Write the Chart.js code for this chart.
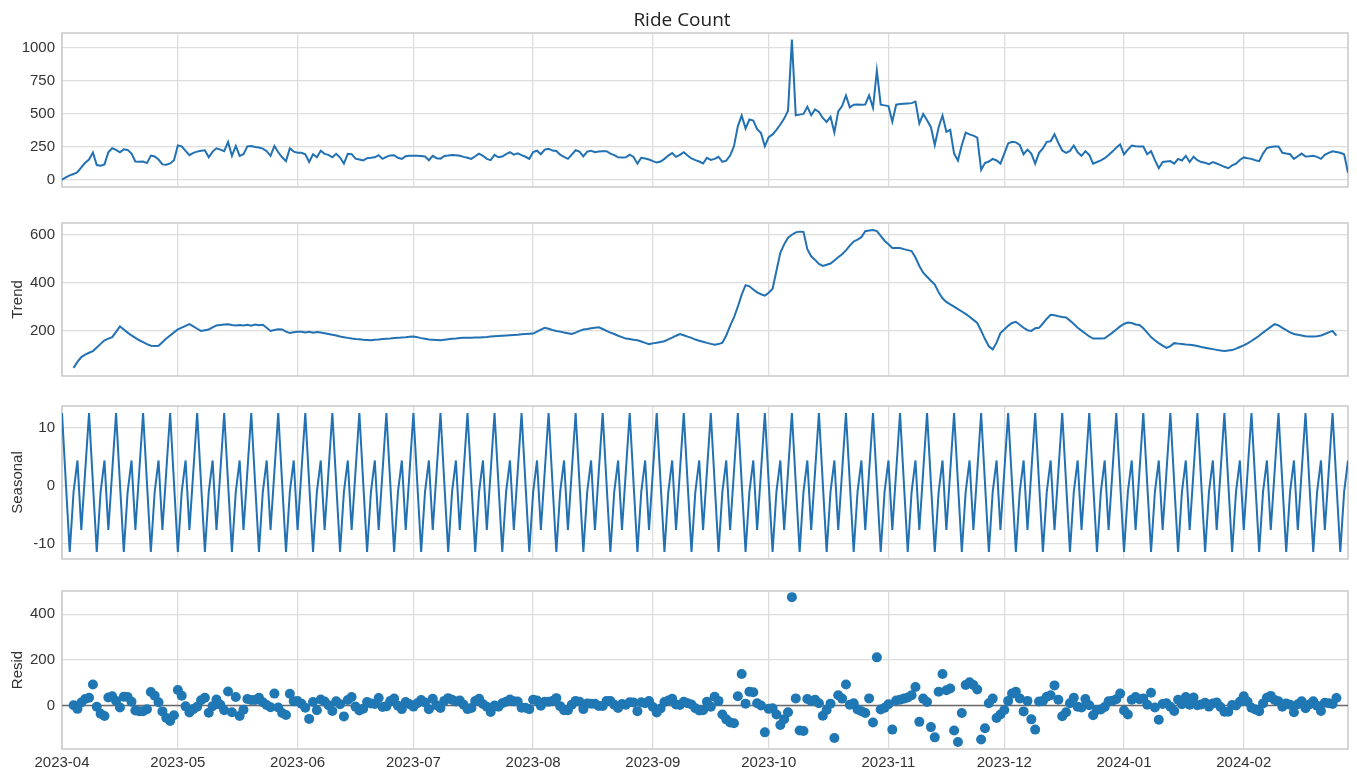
<!DOCTYPE html>
<html>
<head>
<meta charset="utf-8">
<script src="https://cdn.jsdelivr.net/npm/chart.js@4.4.0/dist/chart.umd.min.js"></script>
<style>
body{margin:0;background:#fff;width:1357px;height:774px;position:relative;overflow:hidden}
canvas{position:absolute;left:0}
</style>
</head>
<body>
<canvas id="obs" width="1357" height="203" style="top:0px"></canvas>
<canvas id="trend" width="1357" height="185" style="top:207px"></canvas>
<canvas id="seas" width="1357" height="185" style="top:390px"></canvas>
<canvas id="resid" width="1357" height="199" style="top:575px"></canvas>
<script>
// day index 0 = 2023-04-01, last day 333 = 2024-02-28
const monthDays = [0, 30, 61, 91, 122, 153, 183, 214, 244, 275, 306];
const monthLabels = ['2023-04','2023-05','2023-06','2023-07','2023-08','2023-09','2023-10','2023-11','2023-12','2024-01','2024-02'];

const obsTicks = [0, 250, 500, 750, 1000];
const trendTicks = [200, 400, 600];
const seasTicks = [-10, 0, 10];
const residTicks = [0, 200, 400];

const observed = [
  2, 19, 35, 45, 59, 95, 130, 155, 208, 113,
  108, 118, 210, 240, 228, 210, 232, 228, 200, 140,
  138, 140, 128, 185, 178, 155, 118, 115, 125, 150,
  262, 255, 220, 188, 205, 215, 222, 225, 172, 215,
  240, 230, 218, 288, 183, 258, 182, 195, 255, 258,
  250, 246, 238, 218, 183, 258, 210, 172, 143, 240,
  215, 206, 206, 195, 136, 195, 172, 222, 198, 190,
  172, 198, 170, 124, 198, 196, 162, 155, 148, 165,
  168, 172, 188, 160, 175, 186, 188, 168, 160, 180,
  183, 184, 183, 182, 178, 150, 183, 165, 162, 182,
  185, 190, 188, 183, 175, 168, 160, 180, 200, 183,
  160, 150, 190, 172, 178, 195, 211, 192, 202, 188,
  176, 160, 212, 222, 195, 230, 237, 223, 220, 192,
  175, 160, 192, 225, 215, 178, 215, 222, 211, 215,
  218, 218, 200, 188, 172, 171, 172, 192, 175, 124,
  168, 163, 155, 143, 132, 140, 160, 185, 204, 175,
  190, 210, 185, 163, 150, 140, 125, 168, 152, 160,
  176, 138, 146, 185, 255, 406, 488, 390, 458, 450,
  385, 355, 255, 325, 345, 380, 420, 465, 525, 1063,
  490, 495, 500, 555, 490, 535, 515, 470, 440, 478,
  360, 520, 560, 640, 550, 570, 572, 570, 572, 641,
  547, 828, 570, 565, 560, 441, 570, 575, 578, 580,
  582, 594, 429, 500, 453, 400, 265, 400, 488, 365,
  380, 200, 148, 265, 359, 345, 336, 320, 77, 129,
  140, 160, 148, 124, 200, 277, 289, 285, 265, 195,
  230, 200, 124, 206, 240, 289, 293, 347, 280, 223,
  206, 220, 261, 210, 183, 218, 190, 124, 136, 148,
  165, 190, 215, 245, 270, 195, 230, 261, 255, 253,
  253, 195, 218, 150, 89, 136, 140, 143, 124, 160,
  148, 183, 136, 176, 150, 136, 130, 120, 136, 125,
  113, 100, 89, 110, 124, 152, 171, 165, 160, 150,
  143, 200, 242, 250, 253, 253, 206, 200, 195, 160,
  180, 200, 178, 180, 183, 175, 160, 190, 206, 218,
  212, 206, 195, 54
];

const trend = [
  null, null, null, 45, 70, 90, 100, 108, 115, 130,
  145, 160, 167, 173, 195, 218, 205, 192, 180, 170,
  160, 152, 144, 137, 136, 137, 152, 167, 180, 193,
  205, 213, 220, 227, 218, 208, 199, 202, 205, 214,
  222, 224, 226, 227, 224, 222, 224, 222, 225, 221,
  226, 223, 225, 212, 199, 203, 206, 205, 196, 190,
  193, 195, 195, 192, 195, 191, 194, 192, 189, 186,
  183, 180, 176, 173, 170, 167, 165, 164, 162, 161,
  160, 162, 163, 165, 166, 167, 169, 170, 172, 173,
  175, 176, 173, 169, 166, 163, 162, 161, 160, 162,
  164, 166, 167, 169, 170, 171, 171, 172, 172, 173,
  174, 176, 177, 178, 179, 180, 181, 182, 183, 185,
  186, 187, 188, 196, 204, 212, 208, 203, 199, 196,
  192, 189, 186, 192, 199, 205, 207, 210, 212, 214,
  207, 199, 192, 186, 179, 173, 167, 165, 162, 160,
  155, 149, 144, 147, 150, 153, 156, 164, 171, 179,
  186, 181, 175, 170, 163, 158, 154, 149, 145, 141,
  144, 150, 180, 220, 255, 300, 350, 390, 385, 372,
  360, 352, 346, 358, 375, 450, 525, 560, 588, 600,
  610, 613, 612, 540, 510, 495, 478, 470, 475, 480,
  493, 506, 519, 535, 555, 572, 580, 590, 615, 618,
  620, 615, 595, 575, 560, 545, 545, 545, 540, 536,
  532, 505, 470, 442, 425, 408, 392, 360, 335, 320,
  310, 300, 290, 280, 270, 258, 245, 232, 200, 165,
  135, 122, 150, 190, 205, 220, 232, 237, 225, 212,
  202, 199, 210, 212, 230, 250, 266, 264, 260, 257,
  255, 242, 228, 212, 200, 188, 176, 167, 167, 167,
  168, 180, 192, 205, 218, 228, 234, 232, 226, 224,
  210, 192, 173, 160, 148, 138, 128, 136, 148, 146,
  144, 142, 141, 139, 136, 132, 129, 126, 123, 120,
  117, 115, 117, 119, 125, 132, 139, 147, 157, 168,
  179, 192, 204, 216, 227, 222, 212, 202, 193, 186,
  183, 180, 177, 176, 176, 177, 180, 186, 193, 199,
  179, null, null, null
];

const seasonal = [
  12.6, 0.5, -11.4, -1.0, 4.4, -7.6, 2.5,  12.6, 0.5, -11.4, -1.0, 4.4, -7.6, 2.5,
  12.6, 0.5, -11.4, -1.0, 4.4, -7.6, 2.5,  12.6, 0.5, -11.4, -1.0, 4.4, -7.6, 2.5,
  12.6, 0.5, -11.4, -1.0, 4.4, -7.6, 2.5,  12.6, 0.5, -11.4, -1.0, 4.4, -7.6, 2.5,
  12.6, 0.5, -11.4, -1.0, 4.4, -7.6, 2.5,  12.6, 0.5, -11.4, -1.0, 4.4, -7.6, 2.5,
  12.6, 0.5, -11.4, -1.0, 4.4, -7.6, 2.5,  12.6, 0.5, -11.4, -1.0, 4.4, -7.6, 2.5,
  12.6, 0.5, -11.4, -1.0, 4.4, -7.6, 2.5,  12.6, 0.5, -11.4, -1.0, 4.4, -7.6, 2.5,
  12.6, 0.5, -11.4, -1.0, 4.4, -7.6, 2.5,  12.6, 0.5, -11.4, -1.0, 4.4, -7.6, 2.5,
  12.6, 0.5, -11.4, -1.0, 4.4, -7.6, 2.5,  12.6, 0.5, -11.4, -1.0, 4.4, -7.6, 2.5,
  12.6, 0.5, -11.4, -1.0, 4.4, -7.6, 2.5,  12.6, 0.5, -11.4, -1.0, 4.4, -7.6, 2.5,
  12.6, 0.5, -11.4, -1.0, 4.4, -7.6, 2.5,  12.6, 0.5, -11.4, -1.0, 4.4, -7.6, 2.5,
  12.6, 0.5, -11.4, -1.0, 4.4, -7.6, 2.5,  12.6, 0.5, -11.4, -1.0, 4.4, -7.6, 2.5,
  12.6, 0.5, -11.4, -1.0, 4.4, -7.6, 2.5,  12.6, 0.5, -11.4, -1.0, 4.4, -7.6, 2.5,
  12.6, 0.5, -11.4, -1.0, 4.4, -7.6, 2.5,  12.6, 0.5, -11.4, -1.0, 4.4, -7.6, 2.5,
  12.6, 0.5, -11.4, -1.0, 4.4, -7.6, 2.5,  12.6, 0.5, -11.4, -1.0, 4.4, -7.6, 2.5,
  12.6, 0.5, -11.4, -1.0, 4.4, -7.6, 2.5,  12.6, 0.5, -11.4, -1.0, 4.4, -7.6, 2.5,
  12.6, 0.5, -11.4, -1.0, 4.4, -7.6, 2.5,  12.6, 0.5, -11.4, -1.0, 4.4, -7.6, 2.5,
  12.6, 0.5, -11.4, -1.0, 4.4, -7.6, 2.5,  12.6, 0.5, -11.4, -1.0, 4.4, -7.6, 2.5,
  12.6, 0.5, -11.4, -1.0, 4.4, -7.6, 2.5,  12.6, 0.5, -11.4, -1.0, 4.4, -7.6, 2.5,
  12.6, 0.5, -11.4, -1.0, 4.4, -7.6, 2.5,  12.6, 0.5, -11.4, -1.0, 4.4, -7.6, 2.5,
  12.6, 0.5, -11.4, -1.0, 4.4, -7.6, 2.5,  12.6, 0.5, -11.4, -1.0, 4.4, -7.6, 2.5,
  12.6, 0.5, -11.4, -1.0, 4.4, -7.6, 2.5,  12.6, 0.5, -11.4, -1.0, 4.4, -7.6, 2.5,
  12.6, 0.5, -11.4, -1.0, 4.4, -7.6, 2.5,  12.6, 0.5, -11.4, -1.0, 4.4, -7.6, 2.5,
  12.6, 0.5, -11.4, -1.0, 4.4, -7.6, 2.5,  12.6, 0.5, -11.4, -1.0, 4.4, -7.6, 2.5,
  12.6, 0.5, -11.4, -1.0, 4.4, -7.6, 2.5,
  12.6, 0.5, -11.4, -1.0, 4.4
];

const resid = [
  null, null, null, 1, -15, 13, 28, 34, 92, -6,
  -36, -46, 35, 40, 20, -9, 38, 37, 16, -22,
  -25, -25, -17, 59, 43, 14, -26, -55, -68, -43,
  68, 43, -4, -31, -16, -6, 23, 34, -32, -3,
  26, 3, -21, 61, -30, 37, -46, -19, 28, 24,
  24, 34, 14, 2, -8, 52, -9, -33, -42, 51,
  18, 19, 8, -10, -59, 15, -21, 26, 17, 1,
  -24, 18, 5, -48, 24, 37, -5, -22, -14, 15,
  9, 6, 33, -7, -4, 19, 30, -1, -16, 15,
  5, -5, 10, 24, 13, -17, 29, 1, -11, 20,
  32, 25, 17, 22, 3, -16, -11, 19, 29, 6,
  -6, -29, 0, -6, 10, 16, 26, 18, 17, -10,
  -10, -16, 25, 22, -1, 16, 16, 20, 32, -3,
  -21, -21, 3, 20, 16, -16, 9, 8, 7, -2,
  -2, 19, 19, 3, -11, 6, 3, 14, 13, -25,
  14, 10, 19, -7, -31, -13, 15, 22, 29, 4,
  2, 16, 10, 4, -12, -22, -21, 16, -6, 38,
  20, -40, -61, -75, -78, 40, 138, 8, 60, 58,
  10, 0, -118, -15, -12, -40, -86, -60, -30, 475,
  31, -110, -112, 28, 20, 25, 10, -45, -20, 8,
  -143, 45, 30, 92, 3, 10, -18, -25, -33, 31,
  -75, 211, -18, -10, 5, -106, 22, 25, 30, 35,
  45, 81, -72, 30, 15, -95, -140, 60, 138, 67,
  74, -110, -160, -33, 90, 102, 90, 70, -149, -100,
  10, 30, -55, -40, -20, 20, 52, 60, 31, -26,
  20, -61, -106, 17, 20, 38, 45, 88, 25, -47,
  -30, 10, 34, -6, -9, 28, 1, -43, -20, -18,
  -7, 18, 21, 27, 52, -22, -40, 25, 37, 27,
  30, 3, 56, -9, -63, 6, 10, -6, -24, 25,
  5, 37, 3, 35, 1, 4, 12, -5, 9, 13,
  -7, -28, -28, 2, 0, 16, 40, 16, -10, -18,
  -25, 9, 34, 42, 24, 18, -6, 9, 3, -30,
  5, 18, -12, 4, 18, -1, -24, 12, 10, 6,
  33, null, null, null
];

const lastDay = observed.length - 1;
const lineColor = '#2271b3';
const gridColor = '#dddddd';
const tickColor = '#333333';
const tickFont = {family: 'Liberation Sans', size: 15};

function toPoints(arr) {
  return arr.map((v, i) => ({x: i, y: v}));
}

// light frame around each panel, like the matplotlib spines
const framePlugin = {
  id: 'frame',
  beforeDatasetsDraw(chart) {
    const {ctx, chartArea: a} = chart;
    ctx.save();
    ctx.strokeStyle = '#cccccc';
    ctx.lineWidth = 1.6;
    ctx.strokeRect(a.left, a.top, a.right - a.left, a.bottom - a.top);
    ctx.restore();
  }
};

function xScale(showLabels) {
  return {
    type: 'linear', min: 0, max: lastDay,
    afterBuildTicks: s => { s.ticks = monthDays.map(v => ({value: v})); },
    afterFit: s => { s.height = showLabels ? 25 : 0; },
    grid: {color: gridColor, lineWidth: 1.3, drawTicks: false},
    border: {display: false},
    ticks: {
      display: showLabels, autoSkip: false, maxRotation: 0, padding: 5,
      color: tickColor, font: tickFont,
      callback: v => monthLabels[monthDays.indexOf(v)]
    }
  };
}

function yScale(min, max, ticks, title, width) {
  return {
    min: min, max: max,
    afterBuildTicks: s => { s.ticks = ticks.map(v => ({value: v})); },
    afterFit: s => { s.width = width; },
    grid: {color: gridColor, lineWidth: 1.3, drawTicks: false},
    border: {display: false},
    ticks: {padding: 7, color: tickColor, font: tickFont, callback: v => String(v)},
    title: title ? {display: true, text: title, color: tickColor, font: tickFont, padding: {top: 9, bottom: 0}} : {display: false}
  };
}

function baseOptions(padding, xs, ys, title) {
  return {
    responsive: false,
    animation: false,
    devicePixelRatio: 1,
    events: [],
    layout: {padding: padding},
    plugins: {
      legend: {display: false},
      tooltip: {enabled: false},
      title: title || {display: false}
    },
    scales: {x: xs, y: ys}
  };
}

function lineSet(arr) {
  return {
    data: toPoints(arr),
    borderColor: lineColor,
    borderWidth: 2,
    pointRadius: 0,
    tension: 0,
    spanGaps: false
  };
}

new Chart(document.getElementById('obs'), {
  type: 'line',
  data: {datasets: [lineSet(observed)]},
  options: baseOptions(
    {left: 16, right: 9, top: 0, bottom: 6},
    xScale(false),
    yScale(-53, 1113, obsTicks, null, 46),
    {display: true, text: 'Ride Count', color: '#222222',
     font: {family: 'Open Sans', size: 19, weight: 'normal', lineHeight: 1.2},
     padding: {top: 9, bottom: 1.2}}
  ),
  plugins: [framePlugin]
});

new Chart(document.getElementById('trend'), {
  type: 'line',
  data: {datasets: [lineSet(trend)]},
  options: baseOptions({left: 0, right: 9, top: 10, bottom: 10}, xScale(false), yScale(11, 649, trendTicks, 'Trend', 62)),
  plugins: [framePlugin]
});

new Chart(document.getElementById('seas'), {
  type: 'line',
  data: {datasets: [lineSet(seasonal)]},
  options: baseOptions({left: 0, right: 9, top: 10, bottom: 10}, xScale(false), yScale(-12.6, 13.8, seasTicks, 'Seasonal', 62)),
  plugins: [framePlugin]
});

new Chart(document.getElementById('resid'), {
  type: 'scatter',
  data: {
    datasets: [
      {
        data: toPoints(resid),
        backgroundColor: '#1f77b4',
        borderWidth: 0,
        pointRadius: 5,
        showLine: false,
        order: 1
      },
      {
        type: 'line',
        data: [{x: 0, y: 0}, {x: lastDay, y: 0}],
        borderColor: '#6a6a6a',
        borderWidth: 1.6,
        pointRadius: 0,
        order: 2
      }
    ]
  },
  options: baseOptions({left: 0, right: 9, top: 10, bottom: 0}, xScale(true), yScale(-191, 502, residTicks, 'Resid', 62)),
  plugins: [framePlugin]
});
</script>
</body>
</html>
